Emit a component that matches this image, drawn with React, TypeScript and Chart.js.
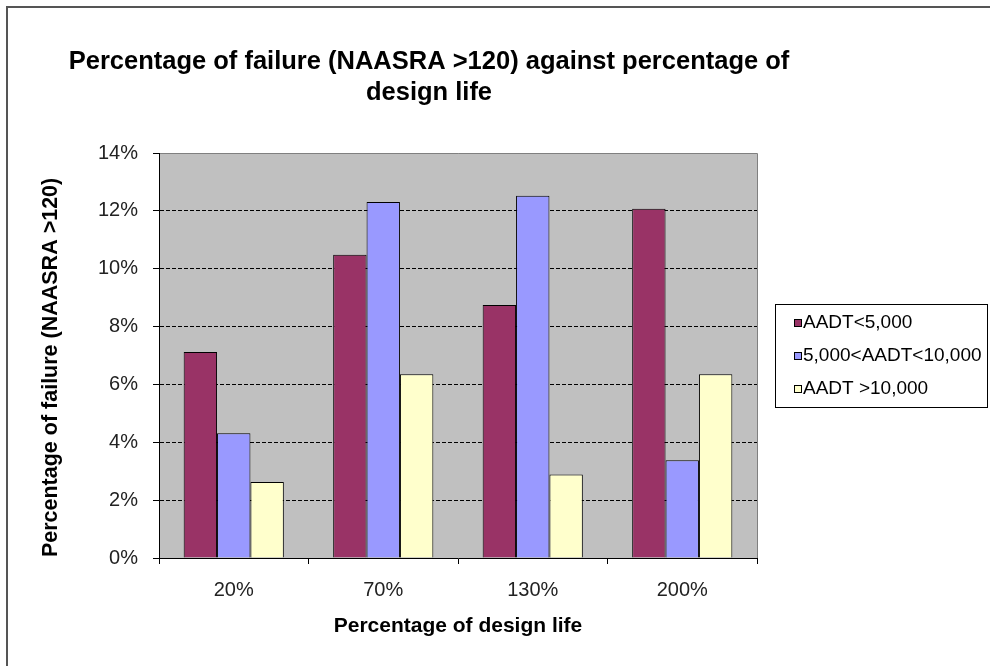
import { useEffect, useRef } from "react";
import { Chart, registerables } from "chart.js";

Chart.register(...registerables);

const categories = ["20%", "70%", "130%", "200%"];
const seriesNames = ["AADT<5,000", "5,000<AADT<10,000", "AADT >10,000"];
const lowTraffic = [7.12, 10.48, 8.75, 12.07];
const midTraffic = [4.31, 12.31, 12.52, 3.38];
const highTraffic = [2.63, 6.35, 2.89, 6.35];
const seriesColors = ["#993366", "#9999FF", "#FFFFCC"];
const yMax = 14;
const yStep = 2;
const titleLines = ["Percentage of failure (NAASRA >120) against percentage of", "design life"];
const yTitle = "Percentage of failure (NAASRA >120)    ";
const xTitle = "Percentage of design life";

const FONT = '"Liberation Sans", Arial, sans-serif';

const decorPlugin = {
  id: "decor",
  beforeDraw(chart: any) {
    const { ctx, chartArea: a, width, height } = chart;
    ctx.save();
    ctx.fillStyle = "#ffffff";
    ctx.fillRect(0, 0, width, height);
    ctx.fillStyle = "#C0C0C0";
    ctx.fillRect(a.left, a.top, a.right - a.left, a.bottom - a.top);
    ctx.strokeStyle = "#808080";
    ctx.lineWidth = 1;
    ctx.beginPath();
    ctx.moveTo(a.left, a.top + 0.5);
    ctx.lineTo(a.right + 0.5, a.top + 0.5);
    ctx.lineTo(a.right + 0.5, a.bottom);
    ctx.stroke();
    ctx.restore();
  },
  afterDraw(chart: any) {
    const { ctx } = chart;
    ctx.save();
    // outer frame (left & top)
    ctx.strokeStyle = "#555555";
    ctx.lineWidth = 2;
    ctx.beginPath();
    ctx.moveTo(7, chart.height);
    ctx.lineTo(7, 7);
    ctx.lineTo(chart.width, 7);
    ctx.stroke();

    // title
    ctx.fillStyle = "#000";
    ctx.font = `bold 25.5px ${FONT}`;
    ctx.textAlign = "center";
    ctx.textBaseline = "middle";
    ctx.fillText(titleLines[0], 429, 62);
    ctx.fillText(titleLines[1], 429, 93);

    // legend
    ctx.strokeStyle = "#000";
    ctx.lineWidth = 1;
    ctx.strokeRect(775.5, 304.5, 212, 103);
    ctx.font = `19px ${FONT}`;
    ctx.textAlign = "left";
    ctx.textBaseline = "middle";
    const rows = [323, 356, 389];
    chart.data.datasets.forEach((ds: any, i: number) => {
      ctx.fillStyle = ds.backgroundColor;
      ctx.fillRect(794, rows[i] - 4, 8, 8);
      ctx.strokeRect(794.5, rows[i] - 3.5, 7, 7);
      ctx.fillStyle = "#000";
      ctx.fillText(ds.label, 803, rows[i]);
    });
    ctx.restore();
  },
};

export default function App() {
  const ref = useRef<HTMLCanvasElement | null>(null);
  useEffect(() => {
    if (!ref.current) return;
    const data = [lowTraffic, midTraffic, highTraffic];
    const chart = new Chart(ref.current, {
      type: "bar",
      data: {
        labels: categories,
        datasets: seriesNames.map((name, i) => ({
          label: name,
          data: data[i],
          backgroundColor: seriesColors[i],
          borderColor: "#000",
          borderWidth: 1,
          categoryPercentage: 0.67,
          barPercentage: 1,
        })),
      },
      options: {
        animation: false,
        responsive: true,
        maintainAspectRatio: false,
        devicePixelRatio: 1,
        layout: { padding: { left: 0, top: 153, right: 233, bottom: 0 } },
        plugins: {
          legend: { display: false },
          title: { display: false },
          tooltip: { enabled: false },
        },
        scales: {
          x: {
            afterFit: (s: any) => {
              s.height = 108;
            },
            grid: {
              display: true,
              drawOnChartArea: false,
              drawTicks: true,
              tickLength: 6,
              color: "#000",
              offset: true,
            },
            border: { color: "#000", width: 1 },
            ticks: {
              color: "#222",
              font: { family: FONT, size: 20 },
              padding: 14,
              maxRotation: 0,
            },
            title: {
              display: true,
              text: xTitle,
              color: "#000",
              font: { family: FONT, size: 21, weight: "bold" },
              padding: { top: 0, bottom: 27 },
            },
          },
          y: {
            min: 0,
            max: yMax,
            afterFit: (s: any) => {
              s.width = 159;
            },
            grid: {
              color: (c: any) =>
                c.tick && (c.tick.value === 0 || c.tick.value === yMax) ? "rgba(0,0,0,0)" : "#000",
              tickColor: "#000",
              tickBorderDash: [],
              tickLength: 6,
              drawTicks: true,
            },
            border: { color: "#000", width: 1, dash: [4, 2] },
            ticks: {
              stepSize: yStep,
              color: "#222",
              font: { family: FONT, size: 20 },
              padding: 15,
              callback: (v: any) => `${v}%`,
            },
            title: {
              display: true,
              text: yTitle,
              color: "#000",
              font: { family: FONT, size: 21.5, weight: "bold" },
              padding: { top: 38, bottom: 0 },
            },
          },
        },
      },
      plugins: [decorPlugin],
    });
    return () => chart.destroy();
  }, []);
  return (
    <div style={{ position: "fixed", left: 0, top: 0, width: 990, height: 666, background: "#fff" }}>
      <canvas ref={ref} />
    </div>
  );
}
